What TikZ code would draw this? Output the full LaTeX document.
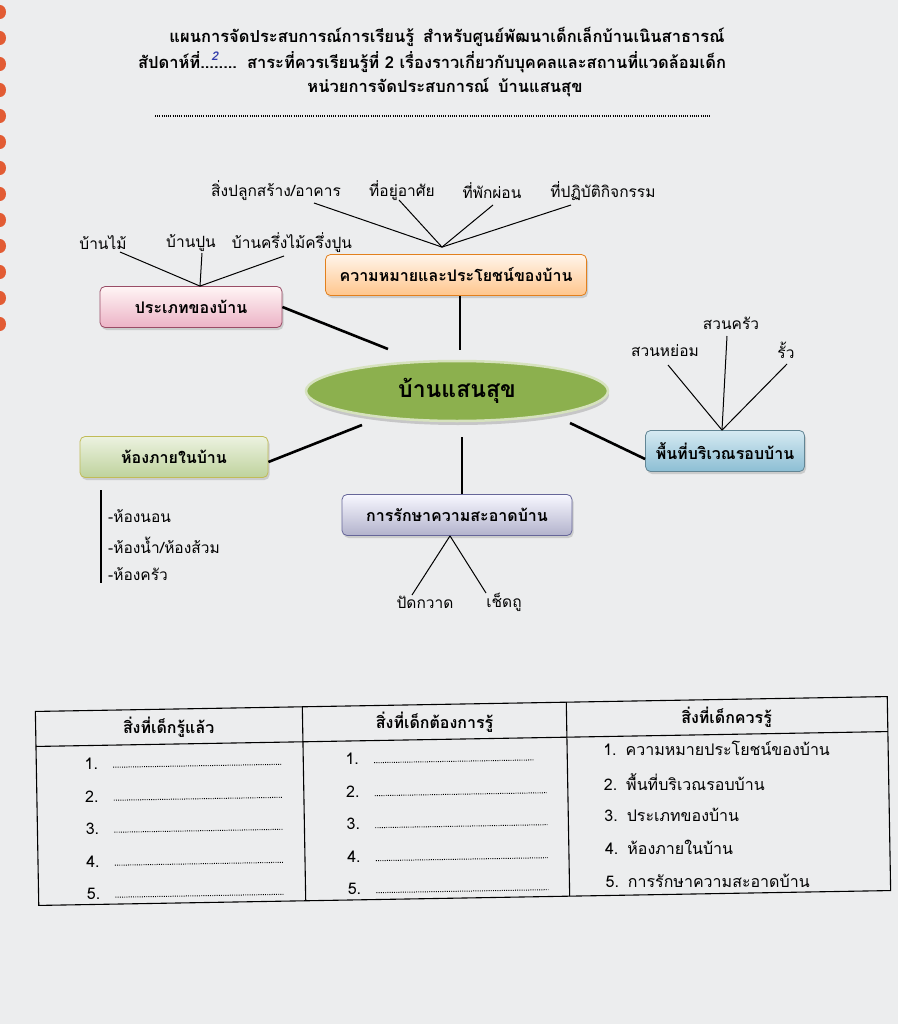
\documentclass[tikz,border=0pt]{standalone}
\usepackage{fontspec}
\newfontfamily\thaifont[Script=Thai]{Loma}
\usetikzlibrary{shapes.geometric,shadows}

\definecolor{paper}{RGB}{236,237,238}
\definecolor{ring}{RGB}{226,92,52}
\definecolor{hubgreen}{RGB}{140,176,78}
\definecolor{hubrim}{RGB}{214,226,190}
\definecolor{pen}{RGB}{50,60,170}
\definecolor{roomtop}{RGB}{236,242,224}
\definecolor{roombot}{RGB}{190,210,156}
\definecolor{outtop}{RGB}{214,234,242}
\definecolor{outbot}{RGB}{140,190,212}

\newcommand{\weekno}{\makebox[0pt][l]{\hspace{11pt}\raisebox{8pt}{\textcolor{pen}{\fontsize{12}{13}\selectfont\itshape 2}}}}

\tikzset{
  title/.style={font=\thaifont\bfseries\fontsize{16.5}{19}\selectfont, inner sep=0pt},
  box/.style={rounded corners=5pt, minimum height=41pt, line width=0.8pt,
    font=\thaifont\bfseries\fontsize{16}{18}\selectfont,
    drop shadow={opacity=0.3, shadow xshift=1.5pt, shadow yshift=-2.5pt}},
  leaf/.style={font=\thaifont\fontsize{15.5}{18}\selectfont, inner sep=1pt},
  cell/.style={font=\thaifont\fontsize{16}{18}\selectfont, inner sep=1pt},
  head/.style={font=\thaifont\bfseries\fontsize{16}{18}\selectfont, inner sep=1pt},
  link/.style={line width=2.6pt},
  twig/.style={line width=1pt},
  blanks/.style={line width=1pt, dash pattern=on 0.9pt off 1.3pt}
}

\begin{document}
\begin{tikzpicture}[x=1pt, y=-1pt]
\fill[paper] (0,0) rectangle (898,1024);
\useasboundingbox (0,0) rectangle (898,1024);
% spiral binding
\foreach \yy in {12,38,...,330} \fill[ring] (0,\yy) ellipse (6 and 7);

% heading
\node[title] (head1) at (447,37) {แผนการจัดประสบการณ์การเรียนรู้\hspace{9pt}สำหรับศูนย์พัฒนาเด็กเล็กบ้านเนินสาธารณ์};
\node[title] (head2) at (432,62) {สัปดาห์ที่\weekno........\hspace{10pt}สาระที่ควรเรียนรู้ที่ 2 เรื่องราวเกี่ยวกับบุคคลและสถานที่แวดล้อมเด็ก};
\node[title] (head3) at (445,87) {หน่วยการจัดประสบการณ์\hspace{9pt}บ้านแสนสุข};
\draw[blanks, line width=1.2pt] (155,116) -- (710,116);

% centre
\node[ellipse, minimum width=302pt, minimum height=60pt, fill=hubgreen, draw=hubrim, line width=2.5pt,
  drop shadow={opacity=0.35, shadow xshift=1pt, shadow yshift=-4pt},
  font=\thaifont\bfseries\fontsize{23}{26}\selectfont] (hub) at (457,391) {บ้านแสนสุข};
\coordinate (hn) at (460,350);
\coordinate (hnw) at (388,349);
\coordinate (hsw) at (362,425);
\coordinate (hs) at (462,437);
\coordinate (hse) at (570,423);

% topics
\node[box, minimum width=261pt, top color=orange!8, bottom color=orange!45, draw=orange!55!brown] (bmean) at (456,275) {ความหมายและประโยชน์ของบ้าน};
\node[box, minimum width=182pt, top color=red!4, bottom color=purple!30, draw=purple!40!gray] (btype) at (191,307) {ประเภทของบ้าน};
\node[box, minimum width=188pt, top color=roomtop, bottom color=roombot, draw=olive!55] (broom) at (174,457) {ห้องภายในบ้าน};
\node[box, minimum width=230pt, top color=blue!3, bottom color=blue!20!gray!50, draw=blue!20!gray] (bclean) at (457,515) {การรักษาความสะอาดบ้าน};
\node[box, minimum width=159pt, top color=outtop, bottom color=outbot, draw=outbot!70!black] (bout) at (725,451) {พื้นที่บริเวณรอบบ้าน};

\draw[link] ([xshift=4pt]bmean.south) -- (hn);
\draw[link] (btype.east) -- (hnw);
\draw[link] ([yshift=-5pt]broom.east) -- (hsw);
\draw[link] ([xshift=5pt]bclean.north) -- (hs);
\draw[link] ([yshift=-8pt]bout.west) -- (hse);

% meaning
\node[leaf] (m1) at (276,191) {สิ่งปลูกสร้าง/อาคาร};
\node[leaf] (m2) at (402,191) {ที่อยู่อาศัย};
\node[leaf] (m3) at (492,191) {ที่พักผ่อน};
\node[leaf] (m4) at (603,191) {ที่ปฏิบัติกิจกรรม};
\coordinate (m1t) at (314,203);
\coordinate (m2t) at (399,200);
\coordinate (m3t) at (493,205);
\coordinate (m4t) at (571,205);
\coordinate (mj) at ([xshift=-14pt,yshift=7pt]bmean.north);
\draw[twig] (m1t) -- (mj);
\draw[twig] (m2t) -- (mj);
\draw[twig] (m3t) -- (mj);
\draw[twig] (m4t) -- (mj);

% kinds
\node[leaf] (k1) at (103,243) {บ้านไม้};
\node[leaf] (k2) at (191,243) {บ้านปูน};
\node[leaf] (k3) at (292,243) {บ้านครึ่งไม้ครึ่งปูน};
\coordinate (k1t) at (120,252);
\coordinate (k2t) at (202,253);
\coordinate (k3t) at (284,256);
\coordinate (kj) at ([xshift=9pt]btype.north);
\draw[twig] (k1t) -- (kj);
\draw[twig] (k2t) -- (kj);
\draw[twig] (k3t) -- (kj);

% surroundings
\node[leaf] (s1) at (731,323) {สวนครัว};
\node[leaf] (s2) at (665,351) {สวนหย่อม};
\node[leaf] (s3) at (786,350) {รั้ว};
\coordinate (s1t) at (727,336);
\coordinate (s2t) at (668,365);
\coordinate (s3t) at (787,364);
\coordinate (sj) at ([xshift=-3pt]bout.north);
\draw[twig] (s1t) -- (sj);
\draw[twig] (s2t) -- (sj);
\draw[twig] (s3t) -- (sj);

% cleaning
\node[leaf] (c1) at (425,602) {ปัดกวาด};
\node[leaf] (c2) at (504,602) {เช็ดถู};
\coordinate (c1t) at (412,595);
\coordinate (c2t) at (486,593);
\coordinate (cj) at ([xshift=-7pt]bclean.south);
\draw[twig] (c1t) -- (cj);
\draw[twig] (c2t) -- (cj);

% rooms
\draw[line width=1.2pt] (101,490) -- (101,583);
\node[leaf, anchor=west] (r1) at (107,516) {-ห้องนอน};
\node[leaf, anchor=west] (r2) at (107,545) {-ห้องน้ำ/ห้องส้วม};
\node[leaf, anchor=west] (r3) at (107,574) {-ห้องครัว};

% table
\begin{scope}[rotate around={1:(463,801)}]
\draw[line width=1.1pt] (37,704) rectangle (889,898);
\draw[line width=1.1pt] (37,739) -- (889,739);
\draw[line width=1.1pt] (304,704) -- (304,898);
\draw[line width=1.1pt] (568,704) -- (568,898);
\node[head] (h1) at (170,722) {สิ่งที่เด็กรู้แล้ว};
\node[head] (h2) at (436,722) {สิ่งที่เด็กต้องการรู้};
\node[head] (h3) at (728,722) {สิ่งที่เด็กควรรู้};

\node[cell] (a1) at (92,757) {1.};
\node[cell] (a2) at (92,790) {2.};
\node[cell] (a3) at (92,822) {3.};
\node[cell] (a4) at (92,855) {4.};
\node[cell] (a5) at (92,887) {5.};
\draw[blanks] ([xshift=14pt,yshift=-4pt]a1.east) -- ++(168,0);
\draw[blanks] ([xshift=14pt,yshift=-4pt]a2.east) -- ++(168,0);
\draw[blanks] ([xshift=14pt,yshift=-4pt]a3.east) -- ++(168,0);
\draw[blanks] ([xshift=14pt,yshift=-4pt]a4.east) -- ++(168,0);
\draw[blanks] ([xshift=14pt,yshift=-4pt]a5.east) -- ++(168,0);

\node[cell] (b1) at (353,757) {1.};
\node[cell] (b2) at (353,790) {2.};
\node[cell] (b3) at (353,822) {3.};
\node[cell] (b4) at (353,855) {4.};
\node[cell] (b5) at (353,887) {5.};
\draw[blanks] ([xshift=14pt,yshift=-4pt]b1.east) -- ++(160,0);
\draw[blanks] ([xshift=14pt,yshift=-4pt]b2.east) -- ++(172,0);
\draw[blanks] ([xshift=14pt,yshift=-4pt]b3.east) -- ++(172,0);
\draw[blanks] ([xshift=14pt,yshift=-4pt]b4.east) -- ++(172,0);
\draw[blanks] ([xshift=14pt,yshift=-4pt]b5.east) -- ++(172,0);

\node[cell, anchor=west] (g1) at (603,751) {1.\hspace{9pt}ความหมายประโยชน์ของบ้าน};
\node[cell, anchor=west] (g2) at (603,784) {2.\hspace{9pt}พื้นที่บริเวณรอบบ้าน};
\node[cell, anchor=west] (g3) at (603,817) {3.\hspace{9pt}ประเภทของบ้าน};
\node[cell, anchor=west] (g4) at (603,850) {4.\hspace{9pt}ห้องภายในบ้าน};
\node[cell, anchor=west] (g5) at (603,883) {5.\hspace{9pt}การรักษาความสะอาดบ้าน};
\end{scope}
\end{tikzpicture}
\end{document}
